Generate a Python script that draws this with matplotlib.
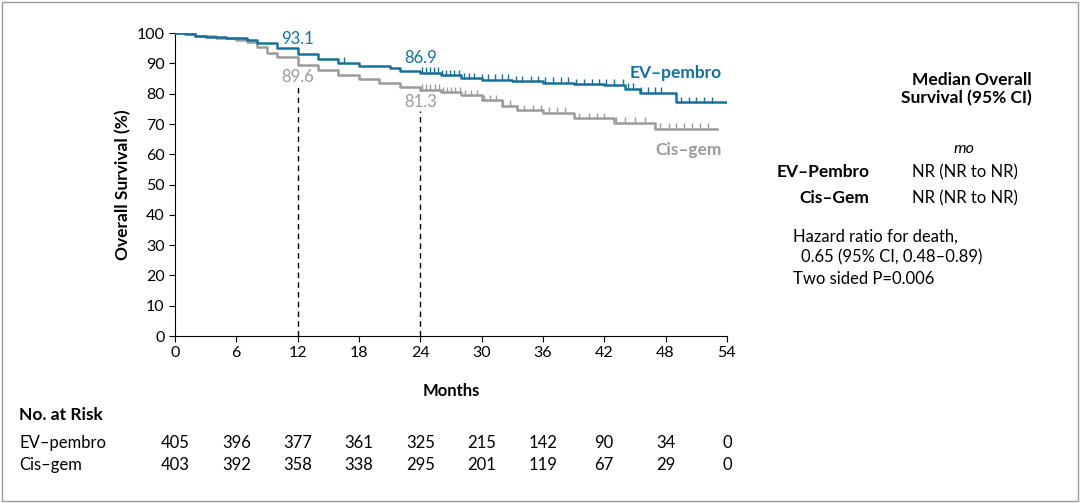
import numpy as np
import matplotlib.pyplot as plt
from matplotlib.patches import Rectangle

plt.rcParams['font.family'] = ['Lato', 'DejaVu Sans']

BLUE = "#17709a"
GRAY = "#9b9b9b"

# step curve knots (months, survival %)
ev_t = [0, 1, 2, 3, 5, 7, 8, 10, 12, 14, 16, 18, 21, 22, 24, 26, 28, 30, 33, 36, 39, 42, 44, 45.5, 49, 54]
ev_s = [100, 99.7, 99.2, 98.8, 98.3, 97.6, 96.6, 95.0, 93.1, 91.6, 90.2, 89.2, 88.6, 87.6, 86.9, 86.1, 85.2, 84.6, 84.1, 83.6, 83.2, 83.0, 81.6, 80.3, 77.3, 77.3]
cg_t = [0, 2, 4, 6, 7, 8, 9, 10, 12, 14, 16, 18, 20, 22, 24, 26, 28, 30, 32, 33.5, 36, 39, 43, 47, 53]
cg_s = [100, 99.0, 98.3, 97.8, 97.0, 95.5, 93.5, 92.0, 89.6, 88.0, 86.3, 85.0, 83.6, 82.3, 81.3, 80.5, 79.5, 77.8, 76.0, 74.5, 73.8, 72.0, 70.5, 68.5, 68.5]

# censoring marks (months)
ev_cens = [16.5, 24.2, 24.6, 25.0, 25.3, 25.7, 26.1, 26.5, 26.9, 27.3, 27.8, 28.3, 28.8, 29.3, 30.0,
           30.6, 31.3, 32.0, 32.6, 33.4, 34.0, 34.8, 35.5, 36.2, 37.0, 37.8, 38.5, 39.2, 40.0,
           40.8, 41.5, 42.2, 43.0, 43.8, 44.3, 44.8, 45.6, 46.3, 47.0, 47.6, 49.5, 50.3, 51.0, 51.8, 52.5]
cg_cens = [24.2, 24.6, 25.0, 25.4, 25.8, 26.2, 26.6, 27.0, 27.4, 27.9, 28.4, 29.0, 29.6, 30.2,
           30.8, 31.4, 32.1, 32.8, 33.5, 34.2, 35.0, 35.8, 36.6, 37.4, 38.2, 39.5, 40.5, 41.3,
           42.0, 43.2, 44.0, 45.0, 46.0, 47.5, 48.3, 49.0, 49.8, 50.6, 51.4, 52.2]

landmarks = [12, 24]
ev_land = ["93.1", "86.9"]
cg_land = ["89.6", "81.3"]

risk_t = [0, 6, 12, 18, 24, 30, 36, 42, 48, 54]
ev_risk = [405, 396, 377, 361, 325, 215, 142, 90, 34, 0]
cg_risk = [403, 392, 358, 338, 295, 201, 119, 67, 29, 0]


def surv_at(t, s, x):
    i = np.searchsorted(t, x, side="right") - 1
    return np.array(s)[i]


fig = plt.figure(figsize=(10.8, 5.03), dpi=100)
fig.patches.append(Rectangle((0.002, 0.004), 0.996, 0.992, transform=fig.transFigure,
                             fill=False, edgecolor="#999999", lw=1))
ax = fig.add_axes([0.162, 0.332, 0.511, 0.602])

ax.step(ev_t, ev_s, where="post", color=BLUE, lw=1.8, zorder=3)
ax.step(cg_t, cg_s, where="post", color=GRAY, lw=1.8, zorder=2)
# censor ticks drawn upward from the curve
ax.plot(ev_cens, surv_at(ev_t, ev_s, ev_cens) + 0.8, "|", color=BLUE, ms=5, mew=1, zorder=3)
ax.plot(cg_cens, surv_at(cg_t, cg_s, cg_cens) + 0.8, "|", color=GRAY, ms=5, mew=1, zorder=2)

for m in landmarks:
    ax.plot([m, m], [0, surv_at(cg_t, cg_s, m) - 7], ls=(0, (4, 3)), color="black", lw=1)
for m, a, b in zip(landmarks, ev_land, cg_land):
    ax.text(m, surv_at(ev_t, ev_s, m) + 2.2, a, color=BLUE, fontsize=12, ha="center", va="bottom")
    ax.text(m, surv_at(cg_t, cg_s, m) - 1.5, b, color=GRAY, fontsize=12, ha="center", va="top")

ax.text(53.5, 87.0, "EV\u2013pembro", color=BLUE, fontsize=12.5, fontweight="bold", ha="right", va="center")
ax.text(53.5, 61.5, "Cis\u2013gem", color=GRAY, fontsize=12.5, fontweight="bold", ha="right", va="center")

ax.set_xlim(0, 54)
ax.set_ylim(0, 100)
ax.set_xticks(risk_t)
ax.set_yticks(range(0, 101, 10))
ax.tick_params(labelsize=11.5, direction="out", length=4)
for sp in ["top", "right"]:
    ax.spines[sp].set_visible(False)
ax.set_xlabel("Months", fontsize=12, fontweight="bold", labelpad=16)
ax.set_ylabel("Overall Survival (%)", fontsize=12.5, fontweight="bold")

# number at risk
fig.text(0.018, 0.175, "No. at Risk", fontsize=12.5, fontweight="bold", va="center")
rows = [("EV\u2013pembro", ev_risk, 0.12), ("Cis\u2013gem", cg_risk, 0.075)]
for name, vals, y in rows:
    fig.text(0.018, y, name, fontsize=12, va="center")
    for t, v in zip(risk_t, vals):
        xf = 0.162 + 0.511 * t / 54
        fig.text(xf, y, str(v), fontsize=12, va="center", ha="center")

# median panel
fig.text(0.955, 0.823, "Median Overall\nSurvival (95% CI)", fontsize=12.5, fontweight="bold",
         ha="right", va="center", linespacing=1.2)
fig.text(0.893, 0.703, "mo", fontsize=11.5, style="italic", ha="center", va="center")
fig.text(0.805, 0.658, "EV\u2013Pembro", fontsize=12.5, fontweight="bold", ha="right", va="center")
fig.text(0.805, 0.606, "Cis\u2013Gem", fontsize=12.5, fontweight="bold", ha="right", va="center")
fig.text(0.893, 0.658, "NR (NR to NR)", fontsize=12, ha="center", va="center")
fig.text(0.893, 0.606, "NR (NR to NR)", fontsize=12, ha="center", va="center")
fig.text(0.734, 0.530, "Hazard ratio for death,", fontsize=12, va="center")
fig.text(0.742, 0.488, "0.65 (95% CI, 0.48\u20130.89)", fontsize=12, va="center")
fig.text(0.734, 0.446, "Two sided P=0.006", fontsize=12, va="center")

fig.savefig("out.png", dpi=100)
